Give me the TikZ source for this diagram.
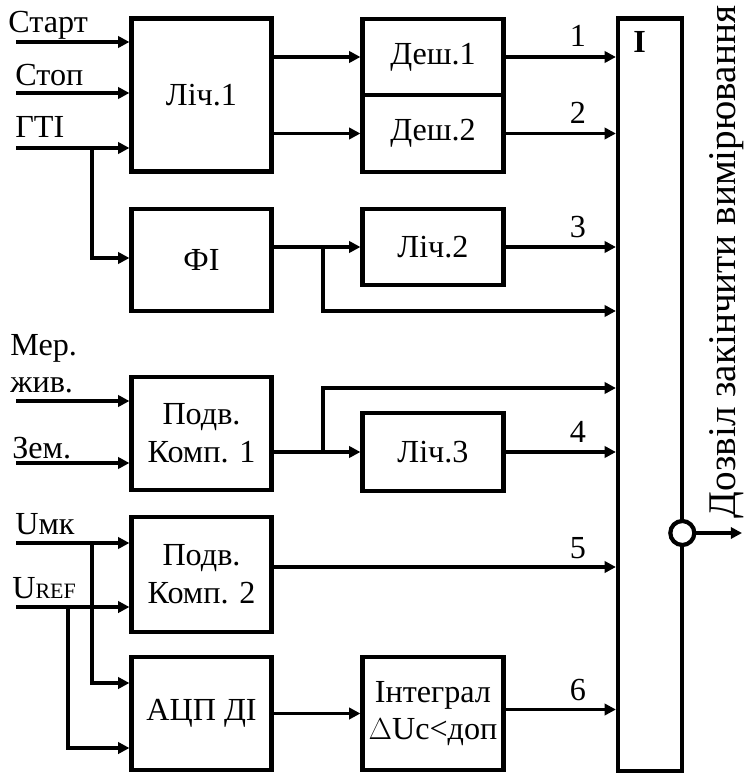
\documentclass[tikz,border=0pt]{standalone}
\usepackage{fontspec}
\setmainfont{LiberationSerif}[Extension=.ttf, UprightFont=*-Regular, BoldFont=*-Bold]
\usepackage{tikz}
\usetikzlibrary{arrows.meta, positioning, calc}

\begin{document}
\begin{tikzpicture}[x=0.02cm, y=-0.02cm,
    font=\fontsize{18.3}{21.5}\selectfont,
    blk/.style={draw, line width=2.4pt, inner sep=0pt, align=center},
    arr/.style={line width=1.8pt, -{Triangle[length=6.4pt, width=6.4pt]}},
    lbl/.style={anchor=base west, inner sep=0pt}]
  \useasboundingbox (0,0) rectangle (743,773);

  % Blocks
  \node[blk, minimum width=2.8cm, minimum height=3.06cm] (lich1) at (201.5,95) {Ліч.1};
  \node[blk, minimum width=2.82cm, minimum height=1.53cm] (desh1) at (433,57) {Деш.1};
  \node[blk, minimum width=2.82cm, minimum height=1.53cm] (desh2) at (433,133.5) {Деш.2};
  \node[blk, minimum width=2.8cm, minimum height=2.04cm] (fi) at (201.5,260) {ФІ};
  \node[blk, minimum width=2.82cm, minimum height=1.52cm] (lich2) at (433,247) {Ліч.2};
  \node[blk, minimum width=2.8cm, minimum height=2.26cm] (komp1) at (201.5,433.5) {Подв.\\Комп. 1};
  \node[blk, minimum width=2.82cm, minimum height=1.56cm] (lich3) at (433,452) {Ліч.3};
  \node[blk, minimum width=2.8cm, minimum height=2.3cm] (komp2) at (201.5,574.5) {Подв.\\Комп. 2};
  \node[blk, minimum width=2.8cm, minimum height=2.26cm] (adc) at (201.5,713.5) {АЦП ДІ};
  \node[blk, minimum width=2.82cm, minimum height=2.26cm] (integ) at (433,713.5) {Інтеграл\\$\Delta$Uc<доп};
  \node[blk, minimum width=1.28cm, minimum height=15.06cm] (ibox) at (650,395) {};
  \node[font=\fontsize{18.3}{20}\selectfont\bfseries] (ilbl) at (639.5,41.5) {I};

  % Inputs
  \foreach \nm/\y in {start/42, stop/93, gti/148, mer/401, zem/463, umk/543, uref/607}
    \coordinate (\nm) at (16,\y);
  \node[lbl] (lstart) at (8,33) {Старт};
  \node[lbl] (lstop) at (15,86) {Стоп};
  \node[lbl] (lgti) at (15,138) {ГТІ};
  \node[lbl] (lmer) at (10,355) {Мер.};
  \node[lbl] (lzhyv) at (10,392) {жив.};
  \node[lbl] (lzem) at (12,458) {Зем.};
  \node[lbl] (lumk) at (15,534) {Uмк};
  \node[lbl] (luref) at (12,598) {U{\fontsize{12.5}{14}\selectfont REF}};

  \draw[arr] (start) -- (start -| lich1.west);
  \draw[arr] (stop) -- (stop -| lich1.west);
  \draw[arr] (gti) -- (gti -| lich1.west);
  \draw[arr] (mer) -- (mer -| komp1.west);
  \draw[arr] (zem) -- (zem -| komp1.west);
  \draw[arr] (umk) -- (umk -| komp2.west);
  \draw[arr] (uref) -- (uref -| komp2.west);

  % Branches on the left
  \coordinate (b1) at (92,148);
  \coordinate (a0) at (92,258);
  \draw[arr] (b1) -- (a0) -- (a0 -| fi.west);
  \coordinate (b4) at (92,543);
  \coordinate (a1) at (92,683);
  \draw[arr] (b4) -- (a1) -- (a1 -| adc.west);
  \coordinate (b5) at (68,607);
  \coordinate (a2) at (68,748);
  \draw[arr] (b5) -- (a2) -- (a2 -| adc.west);

  % Middle links
  \draw[arr] (lich1.east |- desh1.west) -- (desh1.west);
  \draw[arr] (lich1.east |- desh2.west) -- (desh2.west);
  \draw[arr] (fi.east |- lich2.west) -- (lich2.west);
  \draw[arr] (komp1.east |- lich3.west) -- (lich3.west);
  \draw[arr] (adc.east) -- (integ.west);
  \coordinate (b2) at (323,247);
  \coordinate (j3) at (323,311);
  \draw[arr] (b2) -- (j3) -- (j3 -| ibox.west);
  \coordinate (b3) at (323,453);
  \coordinate (j4) at (323,388);
  \draw[arr] (b3) -- (j4) -- (j4 -| ibox.west);

  % Outputs 1..6
  \draw[arr] (desh1.east) -- (desh1.east -| ibox.west);
  \draw[arr] (desh2.east) -- (desh2.east -| ibox.west);
  \draw[arr] (lich2.east) -- (lich2.east -| ibox.west);
  \draw[arr] (lich3.east) -- (lich3.east -| ibox.west);
  \draw[arr] ($(komp2.east)+(0,-7.5)$) -- ($(komp2.east -| ibox.west)+(0,-7.5)$);
  \draw[arr] ($(integ.east)+(0,-4)$) -- ($(integ.east -| ibox.west)+(0,-4)$);
  \foreach \n/\y in {1/47, 2/124, 3/237, 4/442, 5/558, 6/700}
    \node[anchor=base] (num\n) at (578,\y) {\n};

  % Inverted output
  \node[circle, draw, line width=2.4pt, fill=white, minimum size=0.48cm, inner sep=0pt] (inv) at (682.3,533) {};
  \coordinate (fin) at (742,533);
  \draw[arr] (inv) -- (fin);
  \node[rotate=90, anchor=base, inner sep=0pt, font=\fontsize{22.3}{26}\selectfont] (perm) at (735,262) {Дозвіл закінчити вимірювання};
\end{tikzpicture}
\end{document}
